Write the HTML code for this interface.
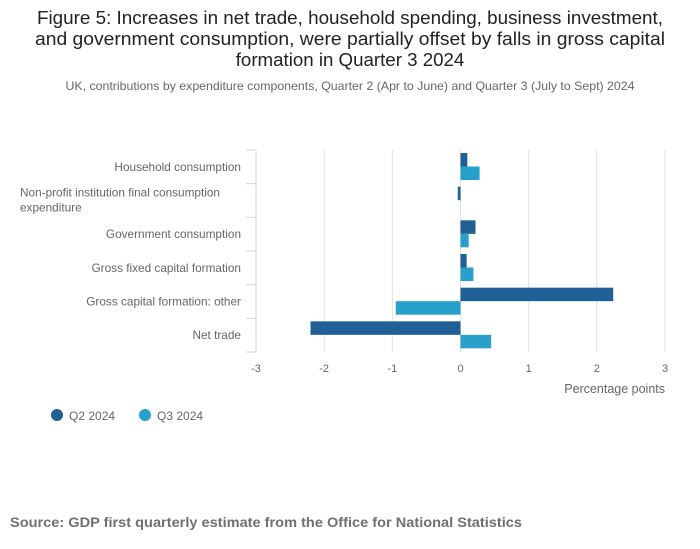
<!DOCTYPE html>
<html><head><meta charset="utf-8"><style>
body{margin:0;background:#fff;font-family:"Liberation Sans",sans-serif;}
#wrap{position:relative;width:700px;height:549px;overflow:hidden;}
</style></head><body>
<div id="wrap">
<svg id="chart" width="700" height="549">
<g font-size="18.7" fill="#222" text-anchor="middle">
<text x="350" y="24" textLength="626" lengthAdjust="spacingAndGlyphs">Figure 5: Increases in net trade, household spending, business investment,</text>
<text x="350" y="45" textLength="630" lengthAdjust="spacingAndGlyphs">and government consumption, were partially offset by falls in gross capital</text>
<text x="350" y="66">formation in Quarter 3 2024</text>
</g>
<text x="350" y="90" font-size="12" fill="#666" text-anchor="middle" textLength="569" lengthAdjust="spacingAndGlyphs">UK, contributions by expenditure components, Quarter 2 (Apr to June) and Quarter 3 (July to Sept) 2024</text>
<g id="grid"></g><g id="bars"></g><g id="axes"></g>
<text x="665" y="393" font-size="12.5" fill="#666" text-anchor="end">Percentage points</text>
<g font-size="12" fill="#666">
<g><circle cx="57" cy="415" r="6" fill="#206095"/><text x="69" y="420">Q2 2024</text></g>
<g><circle cx="145" cy="415" r="6" fill="#27a0cc"/><text x="157" y="420">Q3 2024</text></g>
</g>
<text x="10" y="527" font-size="14" font-weight="bold" fill="#707070" textLength="512" lengthAdjust="spacingAndGlyphs">Source: GDP first quarterly estimate from the Office for National Statistics</text>
</svg>
</div>
<script>
const categories=["Household consumption","Non-profit institution final consumption expenditure","Government consumption","Gross fixed capital formation","Gross capital formation: other","Net trade"];
const q2Values=[0.1,-0.04,0.22,0.09,2.24,-2.2];
const q3Values=[0.28,0,0.12,0.19,-0.95,0.45];
const xTicks=[-3,-2,-1,0,1,2,3];
const NS="http://www.w3.org/2000/svg";
const x0=256,x1=665,yTop=150,yBot=352;
const xs=v=>x0+(v+3)/6*(x1-x0);
const band=(yBot-yTop)/categories.length;
function mk(tag,attrs,parent){const e=document.createElementNS(NS,tag);for(const k in attrs)e.setAttribute(k,attrs[k]);parent.appendChild(e);return e;}
const grid=document.getElementById('grid'),bars=document.getElementById('bars'),axes=document.getElementById('axes');
xTicks.forEach(t=>{
 if(t!==-3){const l=mk('line',{x1:xs(t),x2:xs(t),y1:yTop,y2:yBot,stroke:'#e0e0e0'},grid);
 
 }
 const tx=mk('text',{x:xs(t),y:yBot+20,'font-size':11,fill:'#666','text-anchor':'middle'},axes);
 tx.textContent=t;
 
 
});
const ax=mk('line',{x1:x0,x2:x0,y1:yTop,y2:yBot,stroke:'#ccd6eb'},axes);


for(let i=0;i<=categories.length;i++){const y=yTop+i*band;const tk=mk('line',{x1:x0-10,x2:x0,y1:y,y2:y,stroke:'#ccd6eb'},axes);
 
 }
categories.forEach((c,i)=>{
 const yb=yTop+i*band;
 [[q2Values,'#206095',3],[q3Values,'#27a0cc',16.5]].forEach(([arr,col,off],k)=>{
  const v=arr[i];if(v===0)return;
  const r=mk('rect',{x:Math.min(xs(0),xs(v)),y:yb+off,width:Math.abs(xs(v)-xs(0)),height:13.5,fill:col},bars);
  
  
 });
 const lbl=mk('text',{'font-size':11.8,fill:'#666'},axes);
 
 
 if(i===1){
  lbl.setAttribute('text-anchor','start');
  const a=mk('tspan',{x:20,y:yb+13},lbl);a.textContent="Non-profit institution final consumption";
  const b=mk('tspan',{x:20,y:yb+28},lbl);b.textContent="expenditure";
 }else{
  lbl.setAttribute('text-anchor','end');lbl.setAttribute('x',241);lbl.setAttribute('y',yb+band/2+4);
  lbl.textContent=c;
 }
});
</script>
</body></html>
